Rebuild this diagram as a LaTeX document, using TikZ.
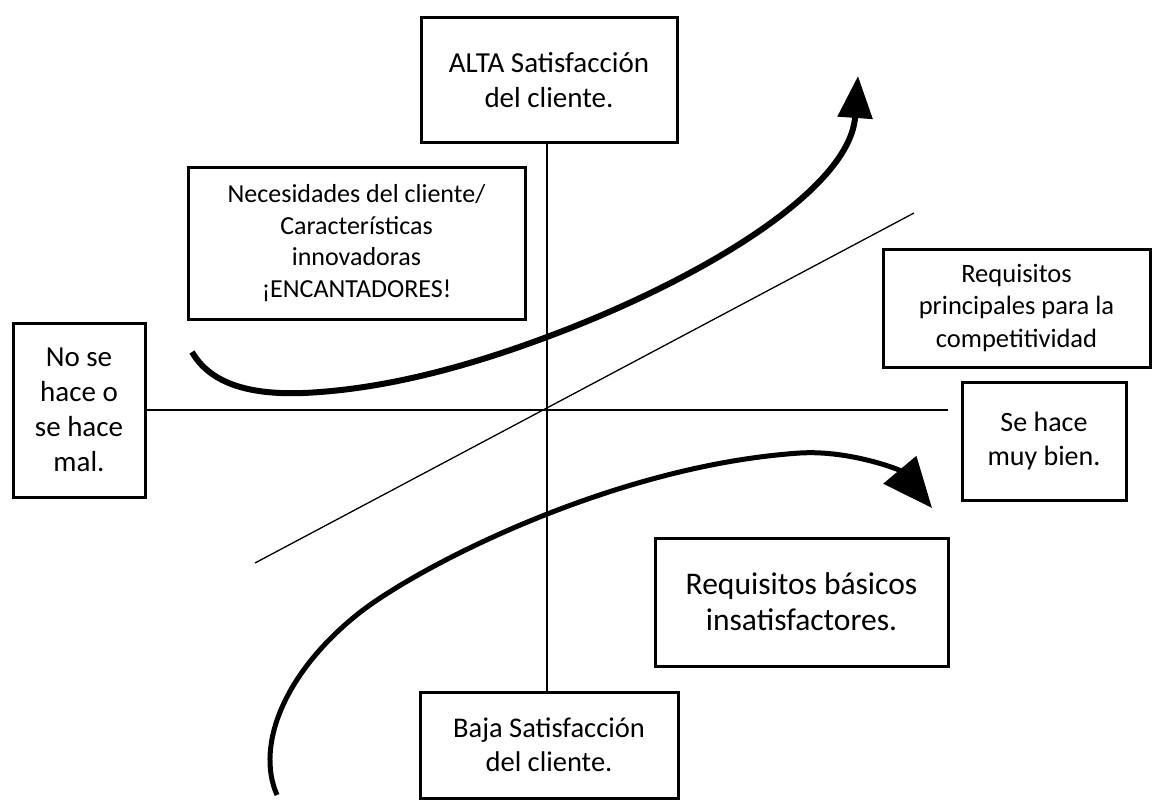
\documentclass[tikz,border=0pt]{standalone}
\usepackage{fontspec}
\setmainfont{Carlito}
\usetikzlibrary{arrows.meta}
\begin{document}
\begin{tikzpicture}[x=1pt,y=-1pt,
  box/.style={draw, line width=3pt, align=center, inner sep=0pt, fill=white},
  axisline/.style={line width=1.3pt},
  bigcurve/.style={line width=6pt, line cap=butt}]
\useasboundingbox (0,0) rectangle (1157,800);
% axes
\coordinate (vTop) at (547,142);
\coordinate (vBot) at (547,692);
\coordinate (hL) at (145,410);
\coordinate (hR) at (948,410);
\coordinate (d1) at (255,563);
\coordinate (d2) at (914,213);
\draw[axisline] (vTop) -- (vBot);
\draw[axisline] (hL) -- (hR);
\draw[axisline] (d1) -- (d2);
% boxes
\node[box, minimum width=256pt, minimum height=124pt, font=\fontsize{29}{35.5}\selectfont] (alta) at (549,80) {ALTA Satisfacción\\del cliente.};
\node[box, minimum width=337pt, minimum height=152pt, font=\fontsize{26}{31.5}\selectfont] (nec) at (356.5,243) {Necesidades del cliente/\\Características\\innovadoras\\¡ENCANTADORES!};
\node[box, minimum width=132pt, minimum height=174pt, font=\fontsize{29}{35}\selectfont] (nose) at (79,410) {No se\\hace o\\se hace\\mal.};
\node[box, minimum width=267pt, minimum height=118pt, font=\fontsize{26.5}{32.5}\selectfont] (prin) at (1016.5,308) {Requisitos\\principales para la\\competitividad};
\node[box, minimum width=164pt, minimum height=118pt, font=\fontsize{28}{34}\selectfont] (sehace) at (1044,441) {Se hace\\muy bien.};
\node[box, minimum width=293pt, minimum height=128pt, font=\fontsize{31.5}{36}\selectfont] (basic) at (801.5,602) {Requisitos básicos\\insatisfactores.};
\node[box, minimum width=258pt, minimum height=106pt, font=\fontsize{28.5}{33.5}\selectfont] (baja) at (549,745) {Baja Satisfacción\\del cliente.};
% curves
\coordinate (uS) at (192,352);
\coordinate (uE) at (858,76);
\draw[bigcurve, -{Triangle[length=42pt,width=34pt]}] (uS) .. controls (215,392) and (270,396) .. (320,392)
  .. controls (400,386) and (480,362) .. (547,337)
  .. controls (700,280) and (850,190) .. (uE);
\coordinate (lS) at (277,795);
\coordinate (lE) at (932,508);
\draw[bigcurve, line width=5pt, -{Triangle[length=50pt,width=42pt]}] (lS) .. controls (255,745) and (285,670) .. (363,610)
  .. controls (430,560) and (620,465) .. (800,453)
  .. controls (850,450) and (900,470) .. (lE);
\end{tikzpicture}
\end{document}
